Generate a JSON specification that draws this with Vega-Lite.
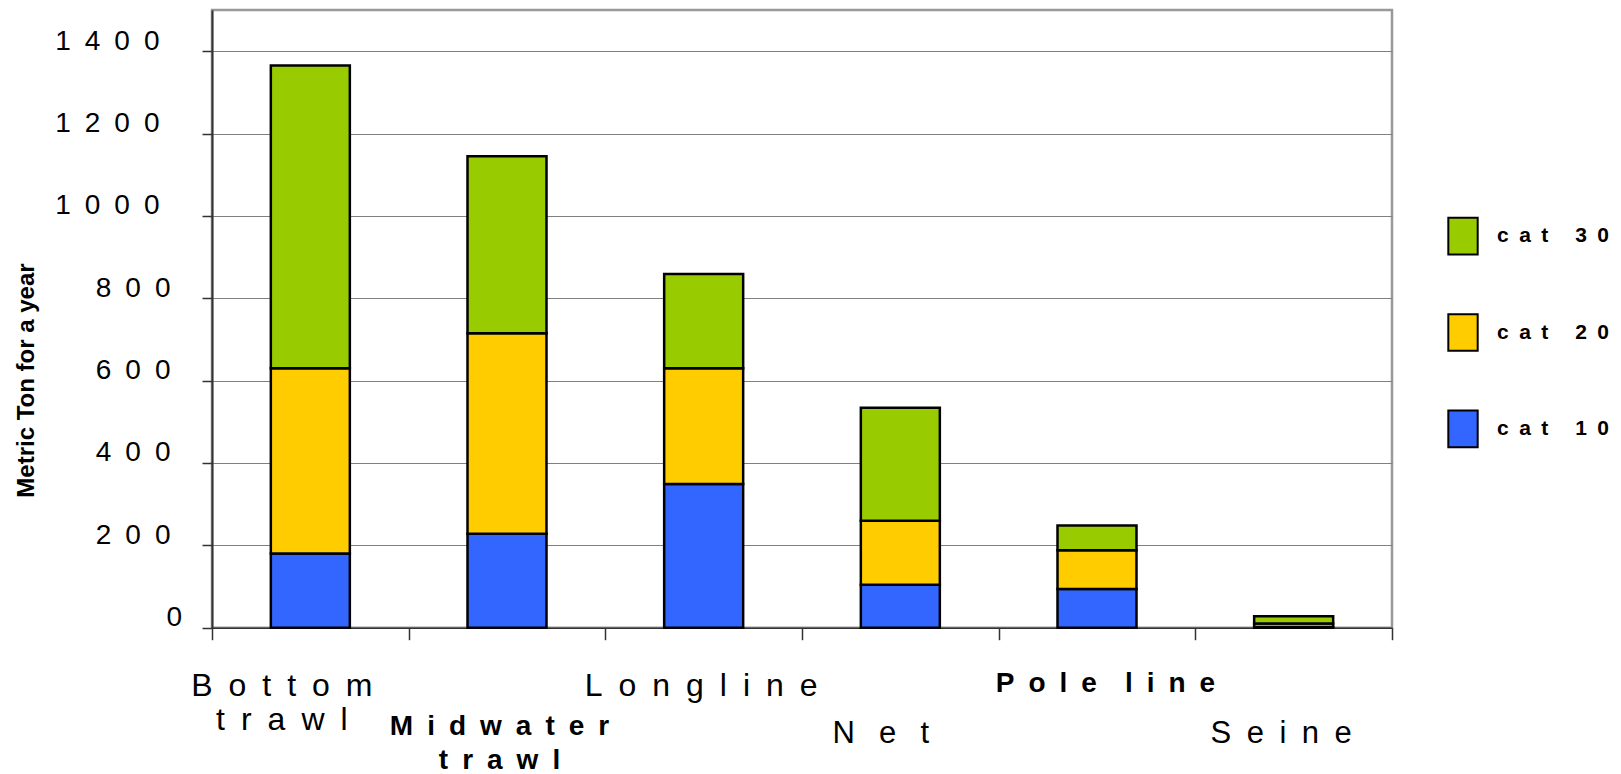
{
  "$schema": "https://vega.github.io/schema/vega-lite/v6.json",
  "autosize": {"type": "none"},
  "width": 1180,
  "height": 617.7,
  "padding": {"left": 212, "top": 10, "right": 229, "bottom": 146.3},
  "background": "white",
  "config": {
    "view": {"stroke": "#999999", "strokeWidth": 2.5},
    "font": "Liberation Sans"
  },
  "data": {
    "values": [
      {"gear": "Bottom trawl", "cat": "cat 10", "tons": 180},
      {"gear": "Bottom trawl", "cat": "cat 20", "tons": 450},
      {"gear": "Bottom trawl", "cat": "cat 30", "tons": 735},
      {"gear": "Midwater trawl", "cat": "cat 10", "tons": 228},
      {"gear": "Midwater trawl", "cat": "cat 20", "tons": 487},
      {"gear": "Midwater trawl", "cat": "cat 30", "tons": 430},
      {"gear": "Longline", "cat": "cat 10", "tons": 349},
      {"gear": "Longline", "cat": "cat 20", "tons": 281},
      {"gear": "Longline", "cat": "cat 30", "tons": 229},
      {"gear": "Net", "cat": "cat 10", "tons": 104},
      {"gear": "Net", "cat": "cat 20", "tons": 156},
      {"gear": "Net", "cat": "cat 30", "tons": 274},
      {"gear": "Pole line", "cat": "cat 10", "tons": 94},
      {"gear": "Pole line", "cat": "cat 20", "tons": 94},
      {"gear": "Pole line", "cat": "cat 30", "tons": 60},
      {"gear": "Seine", "cat": "cat 10", "tons": 2},
      {"gear": "Seine", "cat": "cat 20", "tons": 8},
      {"gear": "Seine", "cat": "cat 30", "tons": 18}
    ]
  },
  "mark": {"type": "bar", "size": 79, "stroke": "black", "strokeWidth": 2.5},
  "encoding": {
    "x": {
      "field": "gear",
      "type": "nominal",
      "sort": ["Bottom trawl", "Midwater trawl", "Longline", "Net", "Pole line", "Seine"],
      "scale": {"paddingInner": 0, "paddingOuter": 0},
      "axis": {
        "title": null,
        "labelAngle": 0,
        "tickBand": "extent",
        "tickSize": 12,
        "tickColor": "#333333",
        "tickWidth": 1.5,
        "domainColor": "#333333",
        "domainWidth": 1.5,
        "grid": false,
        "labelFont": "Liberation Sans",
        "labelColor": "black",
        "labelBaseline": "alphabetic",
        "labelLineHeight": 34,
        "labelLimit": 0,
        "labelOverlap": false,
        "labelBound": false,
        "labelFlush": false,
        "labelExpr": "datum.value == 'Bottom trawl' ? ['B\u2002o\u2002t\u2002t\u2002o\u2002m', 't\u2002r\u2002a\u2002w\u2002l'] : datum.value == 'Midwater trawl' ? ['M\u2002i\u2002d\u2002w\u2002a\u2002t\u2002e\u2002r', 't\u2002r\u2002a\u2002w\u2002l'] : datum.value == 'Longline' ? 'L\u2002o\u2002n\u2002g\u2002l\u2002i\u2002n\u2002e' : datum.value == 'Net' ? 'N\u2002 e\u2002 t' : datum.value == 'Pole line' ? 'P\u2002o\u2002l\u2002e\u2002\u2002l\u2002i\u2002n\u2002e' : datum.value == 'Seine' ? 'S\u2002e\u2002i\u2002n\u2002e' : ''",
        "labelFontSize": {
          "condition": [
            {"test": "datum.value == 'Midwater trawl' || datum.value == 'Pole line'", "value": 28},
            {"test": "datum.value == 'Net' || datum.value == 'Seine'", "value": 31}
          ],
          "value": 32
        },
        "labelFontWeight": {
          "condition": {"test": "datum.value == 'Midwater trawl' || datum.value == 'Pole line'", "value": "bold"},
          "value": "normal"
        },
        "labelPadding": {
          "condition": [
            {"test": "datum.value == 'Midwater trawl'", "value": 95},
            {"test": "datum.value == 'Net' || datum.value == 'Seine'", "value": 102.5},
            {"test": "datum.value == 'Pole line'", "value": 52}
          ],
          "value": 55.3
        },
        "labelOffset": {
          "condition": [
            {"test": "datum.value == 'Bottom trawl'", "value": -29},
            {"test": "datum.value == 'Midwater trawl'", "value": -8},
            {"test": "datum.value == 'Longline'", "value": -3},
            {"test": "datum.value == 'Net'", "value": -20},
            {"test": "datum.value == 'Pole line'", "value": 8}
          ],
          "value": -13
        }
      }
    },
    "y": {
      "field": "tons",
      "type": "quantitative",
      "stack": "zero",
      "scale": {"domain": [0, 1500], "nice": false},
      "axis": {
        "title": "Metric Ton for a year",
        "titleFont": "Liberation Sans",
        "titleFontSize": 24,
        "titleFontWeight": "bold",
        "titleColor": "black",
        "titleAngle": 270,
        "titleAlign": "center",
        "titleBaseline": "alphabetic",
        "titleX": -178.7,
        "titleY": 370,
        "values": [0, 200, 400, 600, 800, 1000, 1200, 1400],
        "grid": true,
        "gridColor": "#808080",
        "gridWidth": 1,
        "domainColor": "#333333",
        "domainWidth": 2,
        "tickSize": 10,
        "tickColor": "#333333",
        "tickWidth": 1.5,
        "labelFont": "Liberation Sans",
        "labelFontSize": 28,
        "labelColor": "black",
        "labelBaseline": "alphabetic",
        "labelOffset": -2,
        "labelOverlap": false,
        "labelBound": false,
        "labelFlush": false,
        "labelExpr": "join(split(format(datum.value, 'd'), ''), '\u2002')",
        "labelPadding": {
          "condition": [
            {"test": "datum.value >= 1000", "value": 43},
            {"test": "datum.value == 0", "value": 20.5}
          ],
          "value": 32
        }
      }
    },
    "color": {
      "field": "cat",
      "type": "nominal",
      "scale": {"domain": ["cat 30", "cat 20", "cat 10"], "range": ["#99CC00", "#FFCC00", "#3366FF"]},
      "legend": {
        "title": null,
        "orient": "none",
        "legendX": 1231.5,
        "legendY": 206.7,
        "padding": 0,
        "symbolType": "M-0.8,-1H0.8V1H-0.8Z",
        "symbolSize": 1347,
        "symbolStrokeColor": "black",
        "symbolStrokeWidth": 2,
        "labelFont": "Liberation Sans",
        "labelFontSize": 21,
        "labelFontWeight": "bold",
        "labelColor": "black",
        "labelOffset": 14.5,
        "labelLimit": 0,
        "rowPadding": 51.3,
        "labelExpr": "join(split(datum.label, ''), '\u2002')"
      }
    },
    "order": {"field": "cat", "sort": "ascending"}
  }
}
